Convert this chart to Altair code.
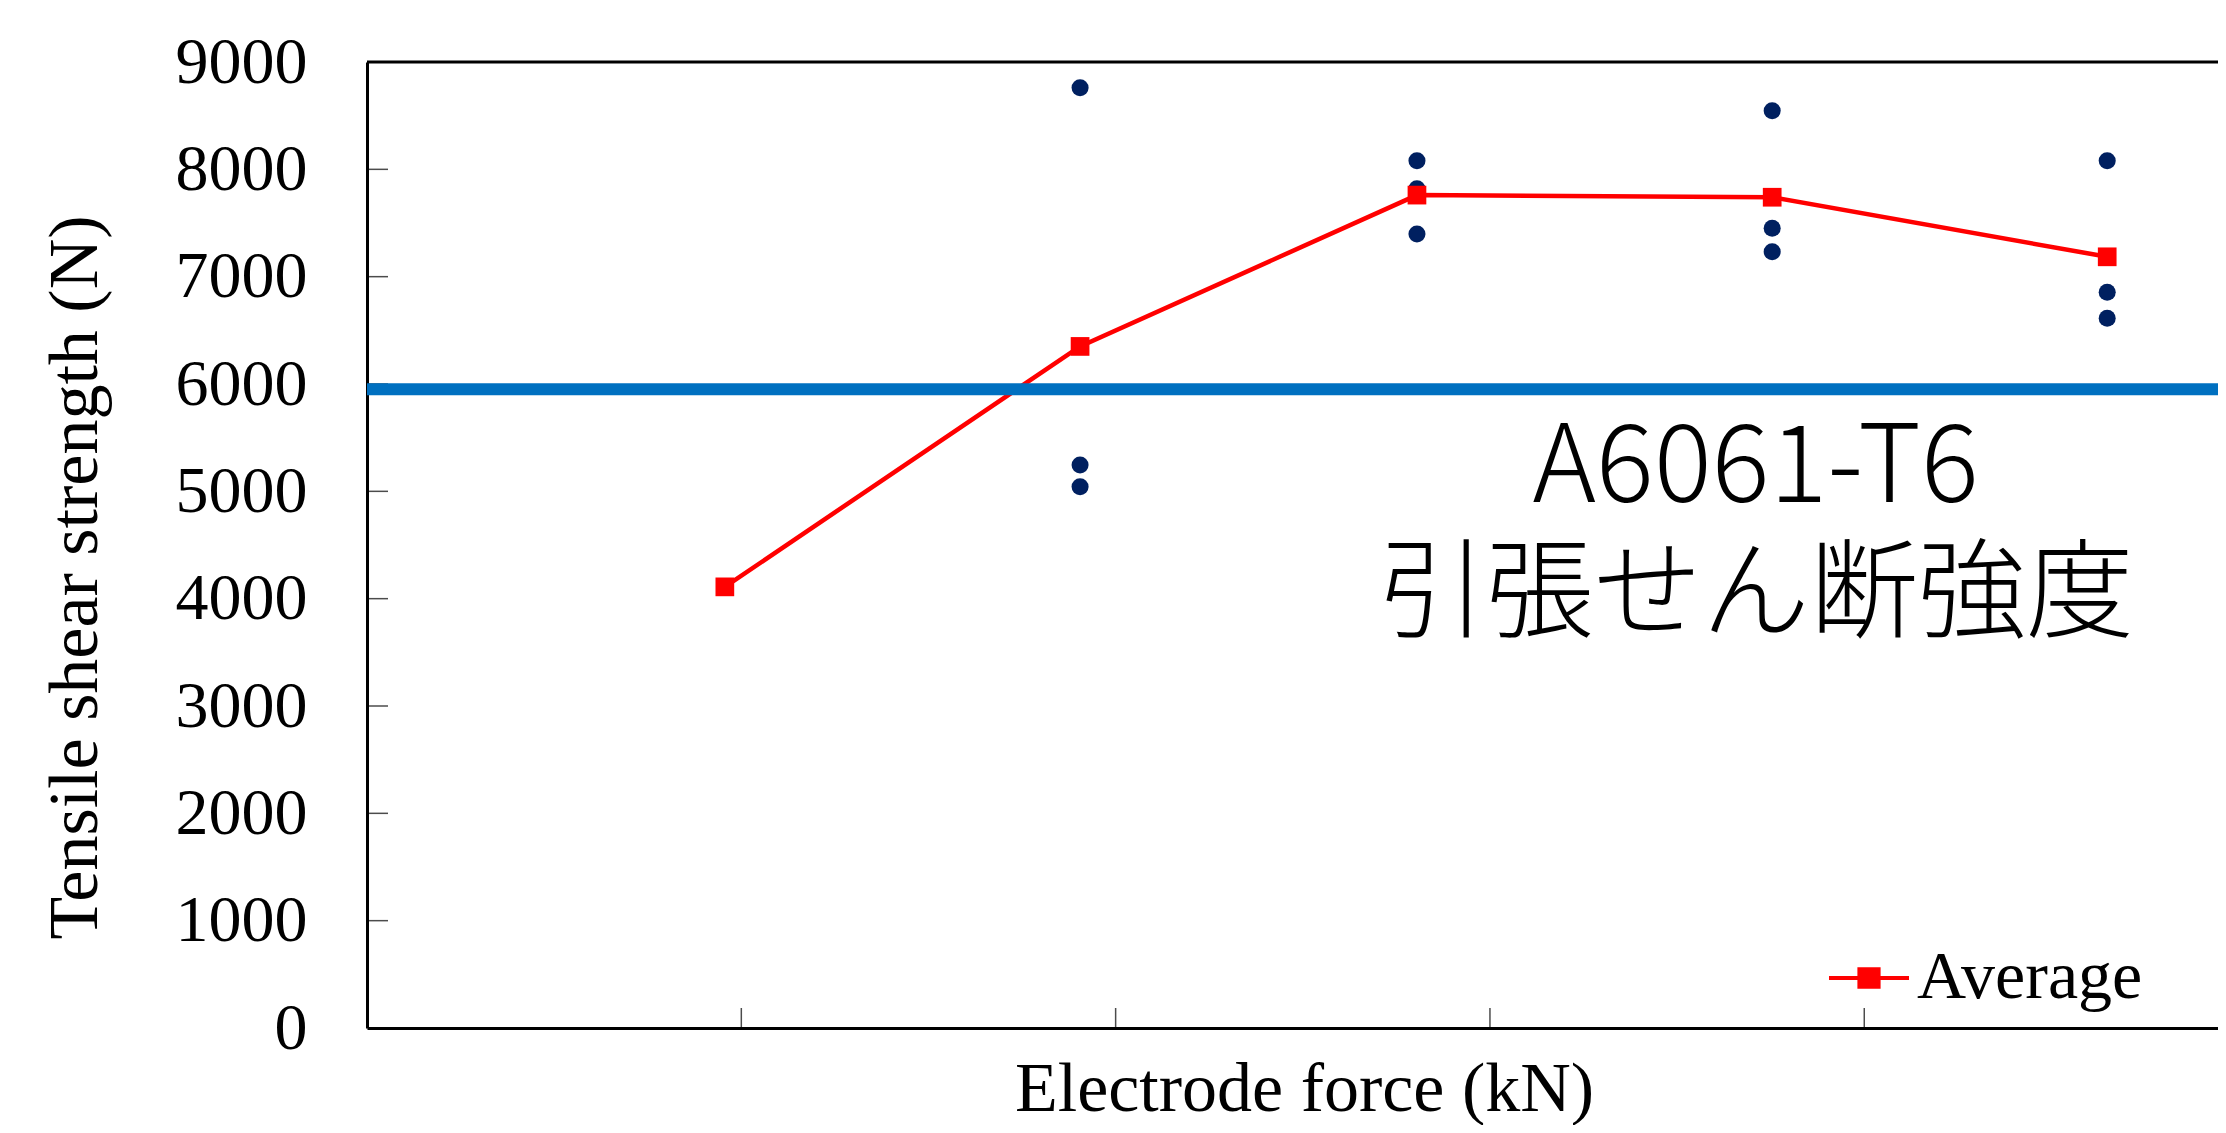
import altair as alt
import pandas as pd

# ---- data ----
x_positions = [0.956, 1.905, 2.805, 3.754, 4.649]      # electrode-force category positions (unlabelled axis)
trial_1 = [4110, 8760, 8080, 8546, 8080]
trial_2 = [4110, 5245, 7820, 7451, 6854]
trial_3 = [4110, 5043, 7398, 7233, 6612]
average = [4110, 6350, 7760, 7740, 7185]
base_strength = [5950]                                  # A6061-T6 tensile shear strength
y_label_values = [0, 1000, 2000, 3000, 4000, 5000, 6000, 7000, 8000, 9000]
y_tick_values = [1000, 2000, 3000, 4000, 5000, 6000, 7000, 8000]
x_tick_values = [1, 2, 3, 4]
y_top = [9000]
ann_text = ["A6061-T6", "引張せん断強度"]
ann_x = [3.71]
ann_y = [4900]

X_MAX = 4.945
Y_MAX = 9000
SERIF = "Liberation Serif"

xs = alt.Scale(domain=[0, X_MAX], nice=False, zero=False)
ys = alt.Scale(domain=[0, Y_MAX], nice=False, zero=True)

scatter_df = pd.DataFrame({
    "x": x_positions * 3,
    "v": trial_1 + trial_2 + trial_3,
})
avg_df = pd.DataFrame({"x": x_positions, "v": average, "series": ["Average"] * len(average)})
base_df = pd.DataFrame({"v": base_strength})
ytick_df = pd.DataFrame({"v": y_tick_values, "z": [0] * len(y_tick_values)})
xtick_df = pd.DataFrame({"v": x_tick_values, "z": [0] * len(x_tick_values)})
top_df = pd.DataFrame({"v": y_top})
ann_df = pd.DataFrame({"t": ["\n".join(ann_text)], "x": ann_x, "v": ann_y})

x_axis = alt.Axis(
    title="Electrode force (kN)", labels=False, ticks=False, grid=False,
    domainColor="black", domainWidth=3,
    titleFont=SERIF, titleFontSize=70, titleFontWeight="normal", titleColor="black",
    titleX=937, titleY=82, titleBaseline="alphabetic", titleAlign="center",
)
y_axis = alt.Axis(
    title="Tensile shear strength (N)", values=y_label_values, format="d",
    ticks=False, tickSize=0, grid=False, labelPadding=60,
    labelFont=SERIF, labelFontSize=66, labelColor="black",
    domainColor="black", domainWidth=3,
    titleFont=SERIF, titleFontSize=70, titleFontWeight="normal", titleColor="black",
    titleX=-271, titleY=515, titleAngle=-90, titleBaseline="alphabetic", titleAlign="center",
)

yticks = alt.Chart(ytick_df).mark_tick(
    orient="horizontal", size=21, thickness=1.5, color="black", xOffset=10.5
).encode(x=alt.X("z:Q", scale=xs, axis=x_axis), y=alt.Y("v:Q", scale=ys, axis=y_axis))

xticks = alt.Chart(xtick_df).mark_tick(
    orient="vertical", size=20, thickness=1.5, color="black", yOffset=-10
).encode(x=alt.X("v:Q", scale=xs, axis=x_axis), y=alt.Y("z:Q", scale=ys, axis=y_axis))

scatter = alt.Chart(scatter_df).mark_circle(size=290, color="#002060", opacity=1).encode(
    x=alt.X("x:Q", scale=xs, axis=x_axis),
    y=alt.Y("v:Q", scale=ys, axis=y_axis),
)

avg_line = alt.Chart(avg_df).mark_line(
    strokeWidth=4.5,
    point=alt.OverlayMarkDef(shape="square", size=350, filled=True, opacity=1),
).encode(
    x=alt.X("x:Q", scale=xs, axis=x_axis),
    y=alt.Y("v:Q", scale=ys, axis=y_axis),
    color=alt.Color(
        "series:N",
        scale=alt.Scale(domain=["Average"], range=["#FF0000"]),
        legend=alt.Legend(
            title=None, orient="none", legendX=1460, legendY=874, padding=0,
            symbolType="M-1,0H1M-0.24,-0.22H0.24V0.22H-0.24Z",
            symbolSize=6400, symbolStrokeWidth=4,
            symbolFillColor="#FF0000", symbolStrokeColor="#FF0000",
            labelFont=SERIF, labelFontSize=68, labelColor="black", labelOffset=6,
            labelLimit=500,
        ),
    ),
)

base_rule = alt.Chart(base_df).mark_rule(color="#0070C0", strokeWidth=12).encode(
    y=alt.Y("v:Q", scale=ys, axis=y_axis)
)

top_rule = alt.Chart(top_df).mark_rule(color="black", strokeWidth=3).encode(
    y=alt.Y("v:Q", scale=ys, axis=y_axis)
)

ann = alt.Chart(ann_df).mark_text(
    font="Noto Sans CJK JP", fontSize=108, fontWeight=300, color="black",
    align="center", baseline="alphabetic", lineBreak="\n", lineHeight=127,
).encode(
    x=alt.X("x:Q", scale=xs, axis=x_axis),
    y=alt.Y("v:Q", scale=ys, axis=y_axis),
    text="t:N",
)

chart = alt.layer(yticks, xticks, scatter, avg_line, base_rule, top_rule, ann).properties(
    width=1851, height=966,
    autosize=alt.AutoSizeParams(type="none"),
    padding={"left": 359, "top": 54, "right": 0, "bottom": 97},
    background="white",
).configure_view(stroke=None)

chart.save("out.html", embed_options={"renderer": "svg", "actions": False})
